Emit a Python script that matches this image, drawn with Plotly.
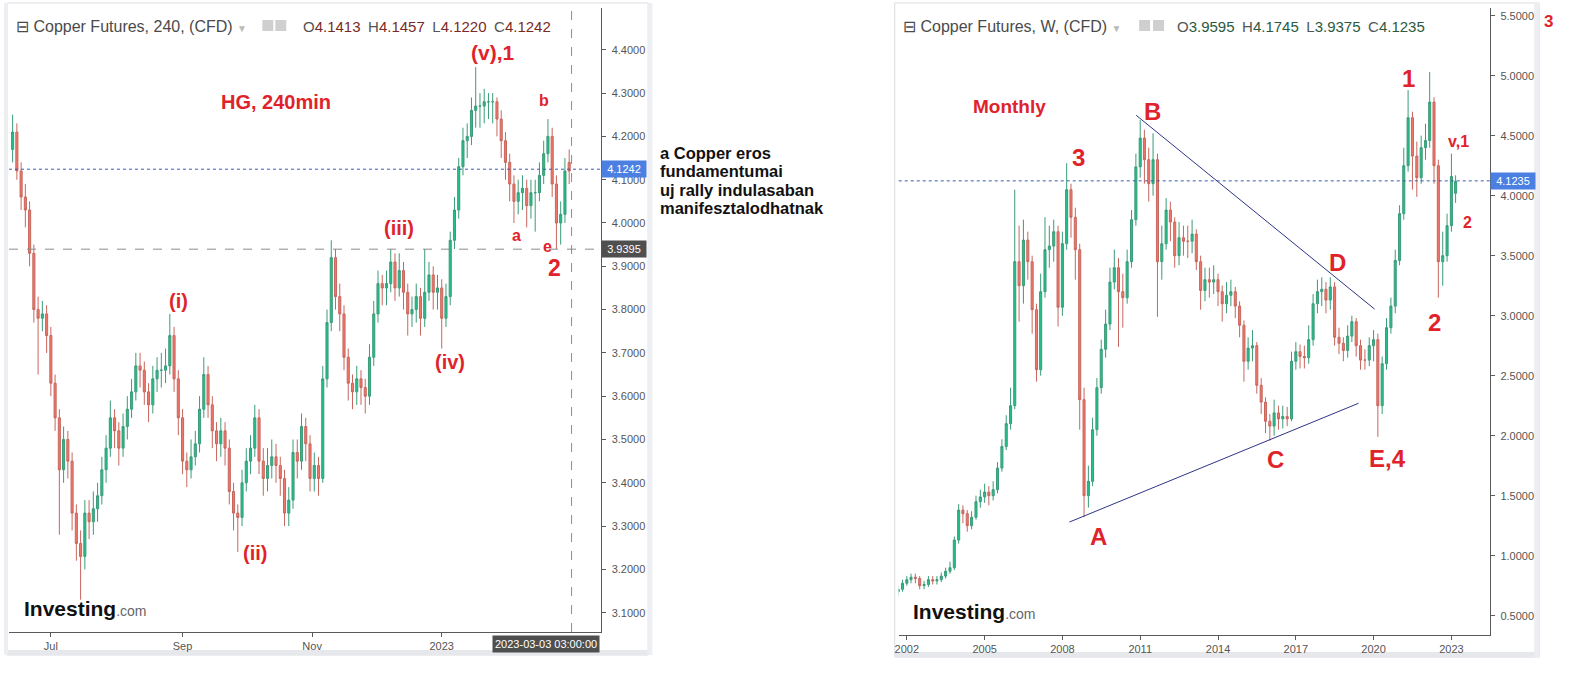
import pandas as pd
import plotly.graph_objects as go

W, H = 1586, 692

# ---- left chart: Copper Futures 240 (2-day candles) ----
hg_dates = pd.date_range("2022-06-13", periods=132, freq="2D")
hg_open = [4.17,4.21,4.12,4.06,4.03,3.93,3.80,3.78,3.79,3.74,
           3.63,3.55,3.43,3.50,3.45,3.33,3.26,3.23,3.33,3.31,
           3.34,3.37,3.43,3.48,3.55,3.52,3.48,3.53,3.57,3.61,
           3.67,3.66,3.61,3.58,3.64,3.66,3.66,3.67,3.74,3.64,
           3.55,3.45,3.43,3.46,3.49,3.57,3.65,3.58,3.52,3.49,
           3.52,3.48,3.38,3.33,3.32,3.40,3.45,3.48,3.55,3.45,
           3.41,3.44,3.46,3.44,3.41,3.33,3.36,3.47,3.45,3.53,
           3.49,3.41,3.44,3.41,3.64,3.77,3.92,3.83,3.79,3.69,
           3.63,3.61,3.64,3.62,3.60,3.69,3.79,3.86,3.85,3.86,
           3.91,3.85,3.89,3.84,3.79,3.80,3.83,3.78,3.84,3.88,
           3.84,3.85,3.78,3.83,3.96,4.03,4.13,4.19,4.20,4.26,
           4.27,4.27,4.28,4.28,4.28,4.24,4.19,4.14,4.09,4.05,
           4.07,4.08,4.04,4.07,4.07,4.11,4.16,4.20,4.09,4.00,
           4.02,4.14]
hg_high = [4.25,4.23,4.14,4.09,4.05,3.95,3.83,3.82,3.81,3.76,
           3.65,3.57,3.53,3.52,3.47,3.35,3.29,3.36,3.36,3.38,
           3.40,3.46,3.51,3.59,3.57,3.54,3.56,3.60,3.64,3.70,
           3.70,3.68,3.63,3.67,3.69,3.70,3.71,3.79,3.76,3.66,
           3.57,3.47,3.50,3.52,3.60,3.69,3.67,3.60,3.54,3.55,
           3.54,3.50,3.40,3.35,3.43,3.48,3.51,3.58,3.57,3.48,
           3.48,3.50,3.49,3.46,3.43,3.39,3.50,3.50,3.56,3.55,
           3.51,3.47,3.46,3.67,3.80,3.96,3.94,3.86,3.81,3.71,
           3.65,3.67,3.66,3.64,3.72,3.82,3.89,3.88,3.89,3.94,
           3.93,3.93,3.91,3.86,3.83,3.86,3.85,3.94,3.91,3.90,
           3.88,3.87,3.86,3.98,4.06,4.15,4.22,4.23,4.29,4.36,
           4.30,4.31,4.30,4.30,4.29,4.26,4.21,4.16,4.11,4.10,
           4.11,4.10,4.10,4.10,4.14,4.19,4.24,4.22,4.11,4.05,
           4.15,4.17]
hg_low = [4.14,4.10,4.03,3.99,3.90,3.77,3.65,3.75,3.70,3.60,
          3.52,3.28,3.40,3.41,3.29,3.22,3.13,3.20,3.27,3.28,
          3.31,3.35,3.40,3.46,3.48,3.44,3.46,3.50,3.55,3.59,
          3.62,3.58,3.54,3.56,3.61,3.62,3.63,3.65,3.61,3.51,
          3.42,3.39,3.41,3.44,3.47,3.55,3.55,3.48,3.45,3.46,
          3.44,3.35,3.29,3.24,3.30,3.38,3.42,3.46,3.42,3.37,
          3.38,3.41,3.40,3.37,3.30,3.30,3.34,3.41,3.43,3.45,
          3.38,3.38,3.37,3.40,3.62,3.75,3.80,3.75,3.66,3.59,
          3.57,3.58,3.58,3.56,3.58,3.67,3.77,3.81,3.81,3.84,
          3.82,3.83,3.80,3.74,3.76,3.77,3.74,3.76,3.82,3.80,
          3.80,3.71,3.76,3.81,3.94,4.01,4.11,4.15,4.18,4.22,
          4.22,4.23,4.24,4.23,4.20,4.15,4.10,4.05,4.00,4.02,
          4.03,3.99,4.01,3.98,4.05,4.09,4.14,4.06,3.94,3.95,
          4.00,4.09]
hg_close = [4.21,4.12,4.06,4.03,3.93,3.80,3.78,3.79,3.74,3.63,
            3.55,3.43,3.50,3.45,3.33,3.26,3.23,3.33,3.31,3.34,
            3.37,3.43,3.48,3.55,3.52,3.48,3.53,3.57,3.61,3.67,
            3.66,3.61,3.58,3.64,3.66,3.66,3.67,3.74,3.64,3.55,
            3.45,3.43,3.46,3.49,3.57,3.65,3.58,3.52,3.49,3.52,
            3.48,3.38,3.33,3.32,3.40,3.45,3.48,3.55,3.45,3.41,
            3.44,3.46,3.44,3.41,3.33,3.36,3.47,3.45,3.53,3.49,
            3.41,3.44,3.41,3.64,3.77,3.92,3.83,3.79,3.69,3.63,
            3.61,3.64,3.62,3.60,3.69,3.79,3.86,3.85,3.86,3.91,
            3.85,3.89,3.84,3.79,3.80,3.83,3.78,3.84,3.88,3.84,
            3.85,3.78,3.83,3.96,4.03,4.13,4.19,4.20,4.26,4.27,
            4.27,4.28,4.28,4.28,4.24,4.19,4.14,4.09,4.05,4.07,
            4.08,4.04,4.07,4.07,4.11,4.16,4.20,4.09,4.00,4.02,
            4.12,4.12]
hg_last = 4.1242
hg_mark = 3.9395
hg_cursor = "2023-03-03 03:00:00"
hg_ticks = ["2022-07-01", "2022-09-01", "2022-11-01", "2023-01-01"]
hg_ticktext = ["Jul", "Sep", "Nov", "2023"]
hg_prices = [3.1, 3.2, 3.3, 3.4, 3.5, 3.6, 3.7, 3.8, 3.9, 4.0, 4.1, 4.2, 4.3, 4.4]

hg_wave_text = ["HG, 240min", "(i)", "(ii)", "(iii)", "(iv)", "(v),1", "a", "b", "e", "2"]
hg_wave_x = ["2022-10-15", "2022-08-30", "2022-10-05", "2022-12-12", "2023-01-05",
             "2023-01-25", "2023-02-05", "2023-02-18", "2023-02-20", "2023-02-23"]
hg_wave_y = [4.279, 3.82, 3.238, 3.988, 3.679, 4.393, 3.97, 4.282, 3.945, 3.896]

# ---- right chart: Copper Futures W (2-month candles) ----
w_dates = pd.date_range("2001-09-01", periods=130, freq="2MS")
w_open = [0.70,0.72,0.77,0.80,0.82,0.81,0.75,0.76,0.80,0.79,
          0.80,0.83,0.87,0.90,1.13,1.38,1.35,1.25,1.32,1.45,
          1.49,1.53,1.50,1.55,1.73,1.91,2.10,2.25,3.45,3.25,
          3.63,3.45,3.05,2.55,3.20,3.55,3.58,3.70,3.07,3.60,
          4.05,3.82,3.55,2.30,1.50,1.62,2.05,2.40,2.72,2.93,
          3.28,3.40,3.20,3.15,3.45,3.80,4.24,4.48,4.30,4.10,
          4.30,3.45,3.60,3.88,3.78,3.50,3.65,3.62,3.62,3.68,
          3.45,3.21,3.30,3.28,3.30,3.20,3.10,3.17,3.20,3.08,
          2.92,2.62,2.73,2.75,2.42,2.28,2.12,2.08,2.19,2.14,
          2.16,2.14,2.62,2.70,2.66,2.65,2.80,3.10,3.20,3.22,
          3.13,3.24,2.82,2.77,2.71,2.83,2.95,2.75,2.63,2.63,
          2.75,2.80,2.25,2.60,2.90,3.08,3.46,3.85,4.25,4.65,
          4.33,4.15,4.40,4.46,4.78,4.25,3.45,3.50,3.75,4.02]
w_high = [0.75,0.80,0.83,0.85,0.85,0.83,0.79,0.83,0.83,0.83,
          0.86,0.90,0.95,1.16,1.43,1.42,1.38,1.37,1.50,1.55,
          1.60,1.58,1.62,1.78,1.97,2.17,2.40,4.05,3.75,3.80,
          3.70,3.50,3.10,3.35,3.82,3.75,3.80,3.75,3.70,4.27,
          4.10,3.90,3.60,2.40,1.75,2.15,2.48,2.80,3.05,3.40,
          3.55,3.48,3.35,3.55,3.88,4.35,4.63,4.55,4.40,4.52,
          4.35,3.75,3.98,3.95,3.82,3.78,3.75,3.75,3.80,3.72,
          3.50,3.40,3.40,3.42,3.35,3.25,3.28,3.30,3.24,3.12,
          2.96,2.82,2.88,2.78,2.48,2.32,2.18,2.30,2.25,2.25,
          2.24,2.70,2.78,2.76,2.75,2.92,3.18,3.30,3.32,3.28,
          3.32,3.28,2.90,2.82,2.92,3.00,2.98,2.80,2.72,2.82,
          2.88,2.85,2.66,2.98,3.15,3.55,3.92,4.40,4.88,4.70,
          4.45,4.50,4.60,5.03,4.82,4.30,3.70,3.85,4.35,4.17]
w_low = [0.66,0.70,0.75,0.77,0.77,0.72,0.72,0.74,0.76,0.76,
         0.78,0.81,0.85,0.88,1.10,1.27,1.20,1.22,1.30,1.40,
         1.44,1.42,1.46,1.52,1.70,1.88,2.05,2.22,2.95,3.10,
         3.30,2.85,2.45,2.50,3.15,3.40,3.45,2.91,3.00,3.55,
         3.65,3.30,2.05,1.32,1.40,1.58,2.00,2.35,2.65,2.88,
         3.22,2.74,2.90,3.10,3.40,3.75,4.15,4.10,3.95,4.00,
         2.99,3.30,3.55,3.62,3.40,3.42,3.50,3.48,3.52,3.38,
         3.05,3.12,3.15,3.18,3.08,2.95,3.02,3.08,2.98,2.82,
         2.45,2.55,2.62,2.35,2.18,2.02,1.96,2.00,2.05,2.06,
         2.08,2.12,2.55,2.56,2.56,2.60,2.75,3.02,3.08,3.02,
         3.05,2.75,2.68,2.62,2.65,2.78,2.66,2.55,2.55,2.58,
         2.62,1.99,2.18,2.55,2.85,3.02,3.42,3.80,4.20,4.05,
         3.99,4.10,4.30,4.40,4.10,3.15,3.25,3.45,3.70,3.94]
w_close = [0.72,0.77,0.80,0.82,0.81,0.75,0.76,0.80,0.79,0.80,
           0.83,0.87,0.90,1.13,1.38,1.35,1.25,1.32,1.45,1.49,
           1.53,1.50,1.55,1.73,1.91,2.10,2.25,3.45,3.25,3.63,
           3.45,3.05,2.55,3.20,3.55,3.58,3.70,3.07,3.60,4.05,
           3.82,3.55,2.30,1.50,1.62,2.05,2.40,2.72,2.93,3.28,
           3.40,3.20,3.15,3.45,3.80,4.24,4.48,4.30,4.10,4.30,
           3.45,3.60,3.88,3.78,3.50,3.65,3.62,3.62,3.68,3.45,
           3.21,3.30,3.28,3.30,3.20,3.10,3.17,3.20,3.08,2.92,
           2.62,2.73,2.75,2.42,2.28,2.12,2.08,2.19,2.14,2.16,
           2.14,2.62,2.70,2.66,2.65,2.80,3.10,3.20,3.22,3.13,
           3.24,2.82,2.77,2.71,2.83,2.95,2.75,2.63,2.63,2.75,
           2.80,2.25,2.60,2.90,3.08,3.46,3.85,4.25,4.65,4.33,
           4.15,4.40,4.46,4.78,4.25,3.45,3.50,3.75,4.16,4.12]
w_last = 4.1235
w_years = [2002, 2005, 2008, 2011, 2014, 2017, 2020, 2023]
w_prices = [0.5, 1.0, 1.5, 2.0, 2.5, 3.0, 3.5, 4.0, 4.5, 5.0, 5.5]

# triangle trendlines (end points)
tri_top_x = ["2010-11-05", "2020-01-15"]
tri_top_y = [4.67, 3.055]
tri_bot_x = ["2008-04-08", "2019-06-03"]
tri_bot_y = [1.28, 2.27]

w_wave_text = ["Monthly", "3", "A", "B", "C", "D", "E,4", "1", "2", "v,1", "2"]
w_wave_x = ["2005-12-17", "2008-08-14", "2009-05-27", "2011-06-17", "2016-03-25", "2018-08-14",
            "2020-07-16", "2021-05-08", "2022-05-08", "2023-04-09", "2023-08-15"]
w_wave_y = [4.74, 4.32, 1.16, 4.70, 1.80, 3.44, 1.81, 4.98, 2.94, 4.45, 3.78]

note_lines = ["a Copper eros", "fundamentumai", "uj rally indulasaban", "manifesztalodhatnak"]


def px(v):
    return v / W


def py(v):
    return 1 - v / H


RED = "#e0232b"
GREY = "#555555"
FONT = "Liberation Sans, Arial, sans-serif"

fig = go.Figure()

candle_style = dict(
    increasing=dict(line=dict(color="#3a9c78", width=1), fillcolor="#22c08a"),
    decreasing=dict(line=dict(color="#c8665d", width=1), fillcolor="#ef776b"),
    whiskerwidth=0, showlegend=False, hoverinfo="skip",
)
fig.add_trace(go.Candlestick(x=hg_dates, open=hg_open, high=hg_high, low=hg_low, close=hg_close,
                             xaxis="x", yaxis="y", **candle_style))
fig.add_trace(go.Candlestick(x=w_dates, open=w_open, high=w_high, low=w_low, close=w_close,
                             xaxis="x2", yaxis="y2", **candle_style))

for lx, ly in [(tri_top_x, tri_top_y), (tri_bot_x, tri_bot_y)]:
    fig.add_trace(go.Scatter(x=lx, y=ly, mode="lines", line=dict(color="#2e3486", width=1),
                             xaxis="x2", yaxis="y2", showlegend=False, hoverinfo="skip"))

axis_common = dict(showgrid=False, zeroline=False, showline=True, linecolor="#5a5a5a", linewidth=1,
                   ticks="outside", ticklen=4, tickcolor="#5a5a5a",
                   tickfont=dict(size=11, color=GREY, family=FONT))

fig.update_layout(
    width=W, height=H, margin=dict(l=0, r=0, t=0, b=0),
    paper_bgcolor="white", plot_bgcolor="white", showlegend=False,
    font=dict(family=FONT, color=GREY),
    xaxis=dict(domain=[px(5), px(599)], anchor="y", type="date",
               range=["2022-06-11 07:00", "2023-03-17 05:00"],
               tickvals=hg_ticks, ticktext=hg_ticktext, rangeslider=dict(visible=False), **axis_common),
    yaxis=dict(domain=[py(632), py(8)], anchor="x", side="right", range=[3.0554, 4.4965],
               tickvals=hg_prices, tickformat=".4f", ticklabelstandoff=3, **axis_common),
    xaxis2=dict(domain=[px(897), px(1490)], anchor="y2", type="date",
                range=["2001-09-09", "2024-07-01"],
                tickvals=[f"{y}-01-01" for y in w_years], ticktext=[str(y) for y in w_years],
                rangeslider=dict(visible=False), **axis_common),
    yaxis2=dict(domain=[py(635), py(8)], anchor="x2", side="right", range=[0.339, 5.564],
                tickvals=w_prices, tickformat=".4f", ticklabelstandoff=3, **axis_common),
)

shapes = [
    # widget frames
    dict(type="rect", xref="paper", yref="paper", x0=px(3), x1=px(646), y0=py(655), y1=py(3),
         line=dict(color="#d9dce1", width=1), layer="below"),
    dict(type="rect", xref="paper", yref="paper", x0=px(3), x1=px(646), y0=py(655), y1=py(650),
         fillcolor="#e6e8eb", line=dict(width=0), layer="below"),
    dict(type="rect", xref="paper", yref="paper", x0=px(645), x1=px(650), y0=py(655), y1=py(3),
         fillcolor="#eceef1", line=dict(width=0), layer="below"),
    dict(type="rect", xref="paper", yref="paper", x0=px(0), x1=px(4), y0=py(655), y1=py(3),
         fillcolor="#eceef1", line=dict(width=0), layer="below"),
    dict(type="rect", xref="paper", yref="paper", x0=px(893), x1=px(1539), y0=py(657), y1=py(3),
         line=dict(color="#d9dce1", width=1), layer="below"),
    dict(type="rect", xref="paper", yref="paper", x0=px(893), x1=px(1539), y0=py(657), y1=py(652),
         fillcolor="#e6e8eb", line=dict(width=0), layer="below"),
    dict(type="rect", xref="paper", yref="paper", x0=px(1534), x1=px(1539), y0=py(657), y1=py(3),
         fillcolor="#eceef1", line=dict(width=0), layer="below"),
    # price lines
    dict(type="line", xref="x domain", yref="y", x0=0, x1=1, y0=hg_last, y1=hg_last,
         line=dict(color="#3b5bb0", width=1, dash="dot")),
    dict(type="line", xref="x domain", yref="y", x0=0, x1=1, y0=hg_mark, y1=hg_mark,
         line=dict(color="#8c8c8c", width=1, dash="dash")),
    dict(type="line", xref="x", yref="y domain", x0=hg_cursor, x1=hg_cursor, y0=0, y1=1,
         line=dict(color="#8c8c8c", width=1, dash="dash")),
    dict(type="line", xref="x2 domain", yref="y2", x0=0, x1=1, y0=w_last, y1=w_last,
         line=dict(color="#3b5bb0", width=1, dash="dot")),
]
# small header icons
for x0 in (259, 272, 1138, 1152):
    shapes.append(dict(type="rect", xref="paper", yref="paper", x0=px(x0), x1=px(x0 + 11),
                       y0=py(31), y1=py(20), fillcolor="#cfcfcf", line=dict(width=0)))
fig.update_layout(shapes=shapes)

ann = []


def header(x, title, ohlc, num_color):
    parts = []
    for k, v in zip("OHLC", ohlc):
        parts.append(f'<span style="color:#555">{k}</span><span style="color:{num_color}">{v}</span>')
    ann.append(dict(xref="paper", yref="paper", x=px(x), y=py(26), xanchor="left", yanchor="middle",
                    text=f'⊟ {title} <span style="color:#bbb;font-size:10px">▼</span>',
                    showarrow=False, font=dict(size=16, color="#4a4a4a", family=FONT)))
    return "\u2002".join(parts)


ohlc_left = header(10, "Copper Futures, 240, (CFD)", ["4.1413", "4.1457", "4.1220", "4.1242"], "#7a2a24")
ann.append(dict(xref="paper", yref="paper", x=px(298), y=py(26), xanchor="left", yanchor="middle",
                text=ohlc_left, showarrow=False, font=dict(size=15, family=FONT)))
ohlc_right = header(899, "Copper Futures, W, (CFD)", ["3.9595", "4.1745", "3.9375", "4.1235"], "#2b5a3e")
ann.append(dict(xref="paper", yref="paper", x=px(1174), y=py(26), xanchor="left", yanchor="middle",
                text=ohlc_right, showarrow=False, font=dict(size=15, family=FONT)))

# wave labels
hg_sizes = [20, 20, 20, 20, 20, 21, 16, 16, 16, 23]
for t, x, y, s in zip(hg_wave_text, hg_wave_x, hg_wave_y, hg_sizes):
    ann.append(dict(xref="x", yref="y", x=x, y=y, text=f"<b>{t}</b>", showarrow=False,
                    font=dict(size=s, color=RED, family=FONT)))
w_sizes = [19, 24, 24, 24, 24, 24, 24, 24, 24, 16, 16]
for t, x, y, s in zip(w_wave_text, w_wave_x, w_wave_y, w_sizes):
    ann.append(dict(xref="x2", yref="y2", x=x, y=y, text=f"<b>{t}</b>", showarrow=False,
                    font=dict(size=s, color=RED, family=FONT)))
ann.append(dict(xref="paper", yref="paper", x=px(1548), y=py(22), xanchor="center", yanchor="middle",
                text="<b>3</b>", showarrow=False, font=dict(size=17, color=RED, family=FONT)))

# price / time tags on the axes
for xr, yr, x, v, bg in [("paper", "y", 599, hg_last, "#4c7fe2"), ("paper", "y", 599, hg_mark, "#4f4f4f"),
                         ("paper", "y2", 1490, w_last, "#4c7fe2")]:
    ann.append(dict(xref=xr, yref=yr, x=px(x), y=v, xanchor="left", yanchor="middle",
                    text=f"{v:.4f}", showarrow=False, bgcolor=bg, borderpad=2, width=40,
                    font=dict(size=11, color="white", family=FONT)))
ann.append(dict(xref="paper", yref="paper", x=px(598), y=py(644), xanchor="right", yanchor="middle",
                text=hg_cursor, showarrow=False, bgcolor="#4f4f4f", borderpad=2,
                font=dict(size=11, color="white", family=FONT)))

# comment text
for i, line in enumerate(note_lines):
    ann.append(dict(xref="paper", yref="paper", x=px(656), y=py(153 + i * 18.5), xanchor="left",
                    yanchor="middle", text=f"<b>{line}</b>", showarrow=False,
                    font=dict(size=16.5, color="#111", family=FONT)))

# Investing.com watermark
for x, y in [(18, 608), (909, 611)]:
    ann.append(dict(xref="paper", yref="paper", x=px(x), y=py(y), xanchor="left", yanchor="middle",
                    text='<b>Investing</b><span style="font-size:14px;color:#666">.com</span>',
                    showarrow=False, font=dict(size=21, color="#111", family=FONT)))

fig.update_layout(annotations=ann)

# page margin off so the figure sits at the window's top-left corner; no modebar
fig.write_html("out.html", config={"displayModeBar": False},
               post_script="document.body.style.margin='0px';")
